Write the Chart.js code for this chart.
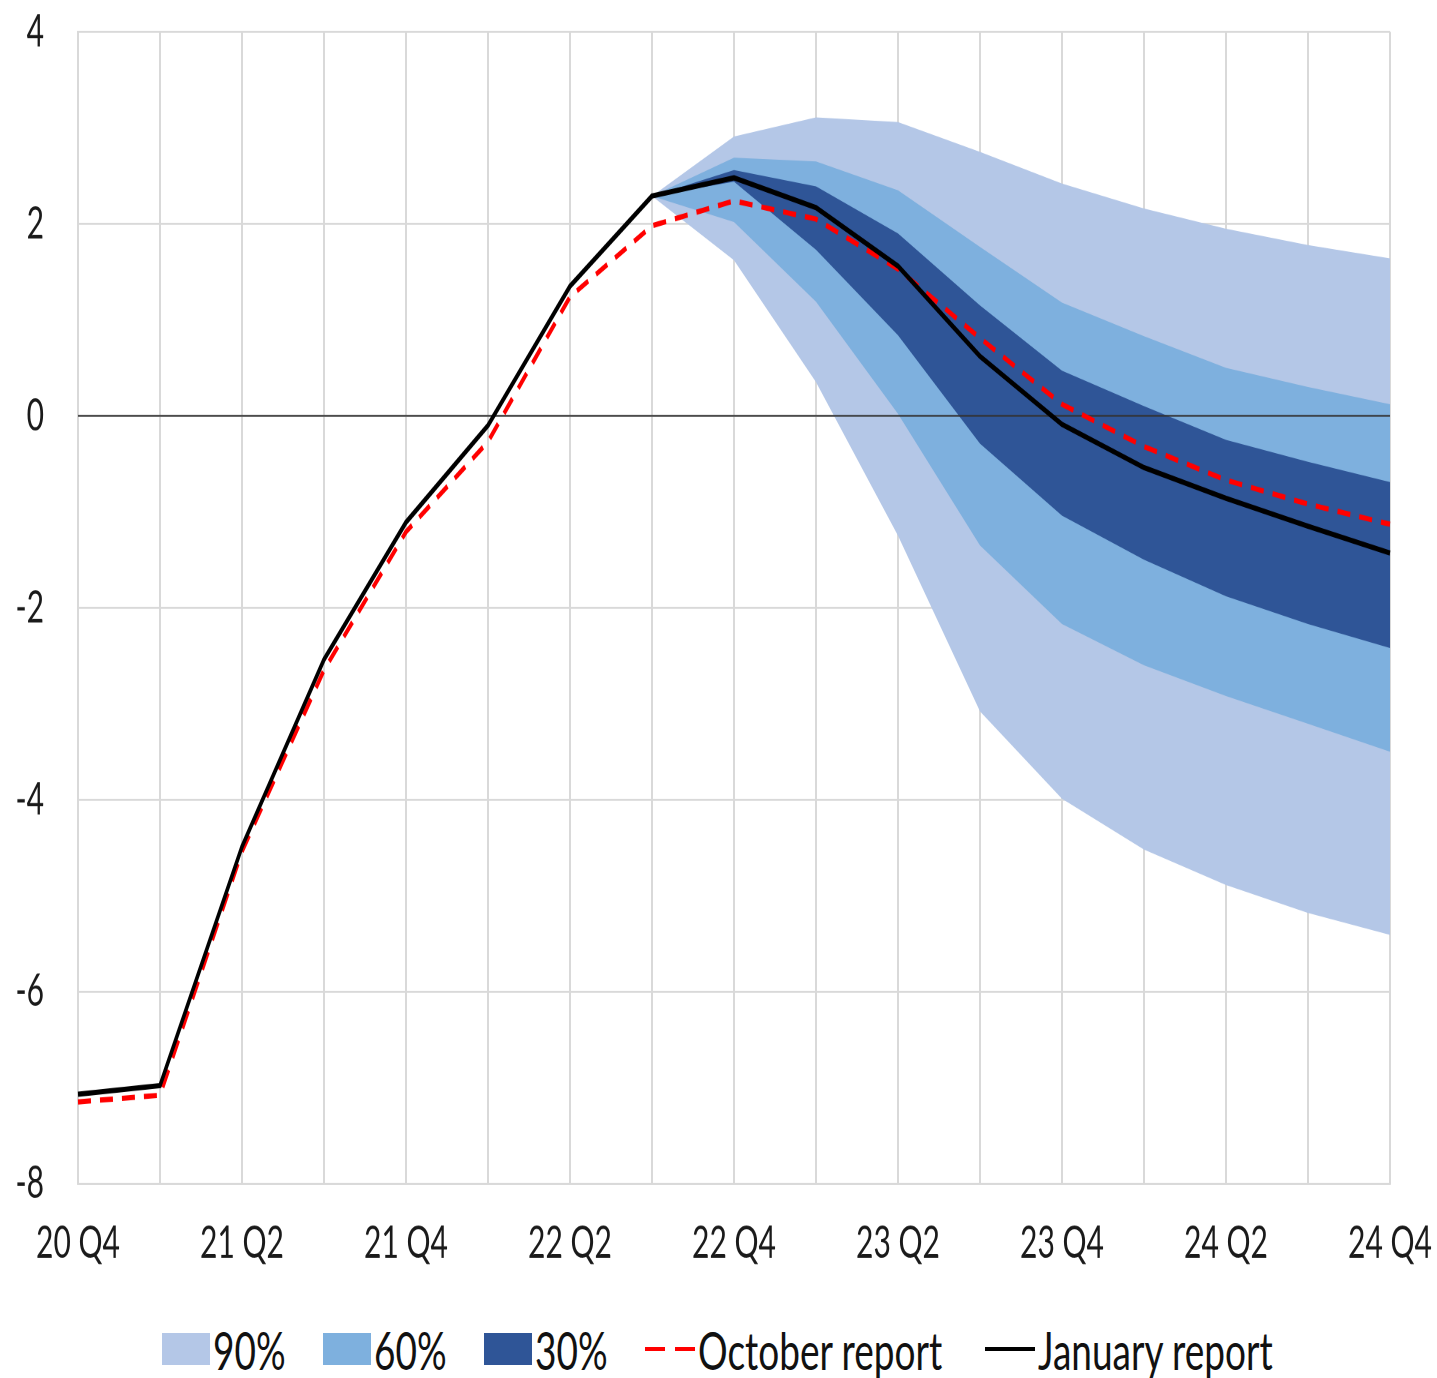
<!DOCTYPE html>
<html lang="en">
<head>
<meta charset="UTF-8"/>
<title>GDP fan chart</title>
<script src="https://cdn.jsdelivr.net/npm/chart.js@4.4.0/dist/chart.umd.min.js"></script>
<style>
  body{margin:0;background:#fff;font-family:Lato,"DejaVu Sans Condensed",sans-serif;}
  #wrap{position:relative;width:1437px;height:1378px;overflow:hidden;}
  /* the source picture is stretched vertically, so the chart is drawn flat and stretched the same way */
  #box{position:absolute;left:0;top:0;width:1437px;height:867px;transform:scaleY(1.5);transform-origin:0 0;}
  .lg{position:absolute;top:1325px;height:48px;display:flex;align-items:center;font-size:37px;color:#111;white-space:nowrap;}
  .lg span{display:inline-block;transform:scaleY(1.4);}
  .sw{width:48px;height:32px;margin-right:3px;}
  .ln{width:50px;height:4px;margin-right:3px;}
</style>
</head>
<body>
<div id="wrap">
  <div id="box"><canvas id="Chart" width="1437" height="867" style="width:1437px;height:867px"></canvas></div>
  <div class="lg" style="left:162px"><div class="sw" style="background:#b4c7e7"></div><span>90%</span></div>
  <div class="lg" style="left:323px"><div class="sw" style="background:#7eb0de"></div><span>60%</span></div>
  <div class="lg" style="left:484px"><div class="sw" style="background:#2f5597"></div><span>30%</span></div>
  <div class="lg" style="left:645px"><div class="ln" style="background:repeating-linear-gradient(to right,#ff0000 0 20px,transparent 20px 30px)"></div><span>October report</span></div>
  <div class="lg" style="left:985px"><div class="ln" style="background:#000"></div><span>January report</span></div>
</div>
<script>
var quarters = ['20 Q4','21 Q1','21 Q2','21 Q3','21 Q4','22 Q1','22 Q2','22 Q3','22 Q4','23 Q1','23 Q2','23 Q3','23 Q4','24 Q1','24 Q2','24 Q3','24 Q4'];
var shownTicks = ['20 Q4','21 Q2','21 Q4','22 Q2','22 Q4','23 Q2','23 Q4','24 Q2','24 Q4'];

var january = [-7.07,-6.98,-4.49,-2.54,-1.11,-0.10,1.35,2.29,2.48,2.17,1.56,0.62,-0.09,-0.54,-0.86,-1.15,-1.43];
var october = [-7.15,-7.08,-4.54,-2.65,-1.21,-0.27,1.24,1.98,2.24,2.05,1.53,0.81,0.12,-0.32,-0.67,-0.92,-1.13];

var n = null;
var hi90 = [n,n,n,n,n,n,n,2.29,2.91,3.11,3.06,2.75,2.42,2.16,1.95,1.78,1.64];
var lo90 = [n,n,n,n,n,n,n,2.29,1.62,0.35,-1.25,-3.08,-3.99,-4.52,-4.89,-5.18,-5.41];
var hi60 = [n,n,n,n,n,n,n,2.29,2.69,2.65,2.35,1.76,1.18,0.83,0.50,0.30,0.12];
var lo60 = [n,n,n,n,n,n,n,2.29,2.02,1.19,0.02,-1.35,-2.17,-2.60,-2.92,-3.21,-3.50];
var hi30 = [n,n,n,n,n,n,n,2.29,2.56,2.39,1.90,1.15,0.47,0.10,-0.25,-0.48,-0.69];
var lo30 = [n,n,n,n,n,n,n,2.29,2.44,1.73,0.84,-0.29,-1.04,-1.50,-1.88,-2.17,-2.42];

var FONT = {family:'Lato,"DejaVu Sans Condensed",sans-serif', size:30};
var GRID = '#d9d9d9';

function band(label, data, color, fill){
  return {label:label, data:data, borderWidth:0, pointRadius:0, backgroundColor:color, fill:fill, tension:0};
}

// zero line sits above the bands but under the two report lines
var zeroLine = {
  id:'zeroLine',
  beforeDatasetDraw:function(chart, args){
    if(args.index !== 1) return;
    var y = chart.scales.y.getPixelForValue(0), a = chart.chartArea, ctx = chart.ctx;
    ctx.save();
    ctx.strokeStyle = 'rgba(50,50,50,0.85)';
    ctx.lineWidth = 1.4;
    ctx.beginPath(); ctx.moveTo(a.left, y); ctx.lineTo(a.right, y); ctx.stroke();
    ctx.restore();
  }
};

var ctx = document.getElementById('Chart').getContext('2d');
var chart = new Chart(ctx, {
  type:'line',
  data:{
    labels:quarters,
    datasets:[
      {label:'January report', data:january, borderColor:'#000', borderWidth:3.5, pointRadius:0, fill:false, tension:0},
      {label:'October report', data:october, borderColor:'#ff0000', borderWidth:3.5, borderDash:[13,9], pointRadius:0, fill:false, tension:0},
      band('30%', hi30, '#2f5597', '+1'),
      band('30% low', lo30, '#2f5597', false),
      band('60%', hi60, '#7eb0de', '+1'),
      band('60% low', lo60, '#7eb0de', false),
      band('90%', hi90, '#b4c7e7', '+1'),
      band('90% low', lo90, '#b4c7e7', false)
    ]
  },
  options:{
    responsive:false,
    devicePixelRatio:2,
    animation:false,
    layout:{padding:{top:21.3, right:47, left:0, bottom:0}},
    plugins:{legend:{display:false}, tooltip:{enabled:false}},
    scales:{
      x:{
        grid:{color:GRID, lineWidth:2, drawTicks:false},
        border:{color:GRID, width:1.4},
        ticks:{
          autoSkip:false, maxRotation:0, padding:22, color:'#1a1a1a', font:FONT,
          callback:function(v){ var l = this.getLabelForValue(v); return shownTicks.indexOf(l) >= 0 ? l : ''; }
        },
        afterFit:function(s){ s.height = 78; s.paddingLeft = 0; s.paddingRight = 0; }
      },
      y:{
        min:-8, max:4,
        grid:{color:GRID, lineWidth:1.4, drawTicks:false},
        border:{color:GRID, width:2},
        ticks:{stepSize:2, padding:34, color:'#1a1a1a', font:FONT},
        afterFit:function(s){ s.width = 78; s.paddingTop = 0; s.paddingBottom = 0; }
      }
    }
  },
  plugins:[zeroLine]
});
</script>
</body>
</html>
